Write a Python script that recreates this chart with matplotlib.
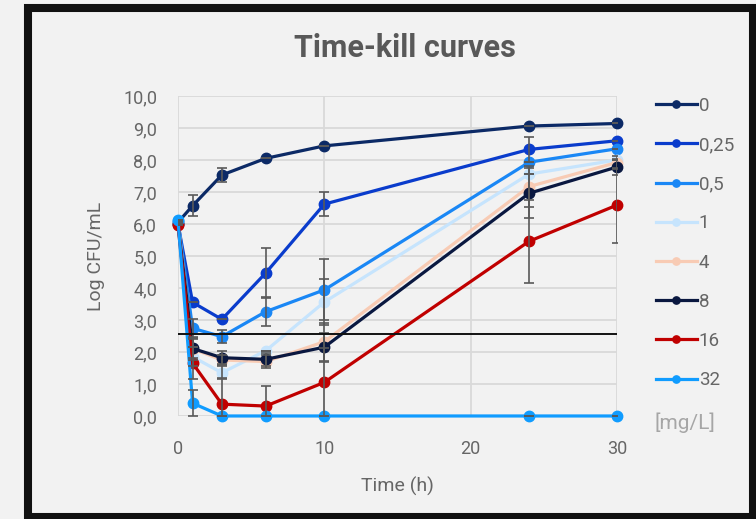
import matplotlib
matplotlib.use("Agg")
import matplotlib.pyplot as plt
from matplotlib.patches import Rectangle
from matplotlib.ticker import FuncFormatter, MultipleLocator

plt.rcParams['font.family'] = ['Roboto', 'DejaVu Sans']

# time points (h)
time_h = [0, 1, 3, 6, 10, 24, 30]

# concentrations (mg/L)
labels = ['0', '0,25', '0,5', '1', '4', '8', '16', '32']
colors = ['#0c2a66', '#0a3ccc', '#1a87f5', '#c6e4fd',
          '#f8cbb4', '#0a1840', '#c00000', '#109cff']

# log CFU/mL per concentration
log_0 = [6.05, 6.57, 7.53, 8.05, 8.44, 9.06, 9.14]
log_025 = [6.0, 3.55, 3.02, 4.47, 6.62, 8.33, 8.6]
log_05 = [6.1, 2.74, 2.48, 3.26, 3.94, 7.93, 8.35]
log_1 = [6.1, 1.85, 1.35, 2.04, 3.56, 7.56, 8.0]
log_4 = [6.0, 2.1, 1.75, 1.7, 2.32, 7.17, 7.92]
log_8 = [6.0, 2.11, 1.82, 1.77, 2.15, 6.96, 7.78]
log_16 = [5.97, 1.65, 0.37, 0.31, 1.05, 5.46, 6.59]
log_32 = [6.12, 0.4, 0.0, 0.0, 0.0, 0.0, 0.0]

# standard deviations
sd_0 = [0, 0.33, 0.22, 0, 0, 0, 0]
sd_025 = [0, 0, 0, 0.78, 0.38, 0.4, 0]
sd_05 = [0, 0.3, 0.2, 0.45, 0.95, 0, 0]
sd_1 = [0, 0.3, 0.2, 0, 0.72, 0, 0]
sd_4 = [0, 0.3, 0.15, 0.2, 0.6, 0.63, 0.2]
sd_8 = [0, 0.35, 0.2, 0.2, 0.45, 0.78, 0.25]
sd_16 = [0, 0.5, 0.82, 0.63, 1.08, 1.3, 1.17]
sd_32 = [0, 0.4, 0, 0, 0, 0, 0]

threshold = 2.56

series = [log_0, log_025, log_05, log_1, log_4, log_8, log_16, log_32]
errors = [sd_0, sd_025, sd_05, sd_1, sd_4, sd_8, sd_16, sd_32]

bg = '#f2f2f2'
txt = '#595959'
tick_txt = '#666666'

fig = plt.figure(figsize=(7.56, 5.19), dpi=100)
fig.patch.set_facecolor(bg)
ax = fig.add_axes([0.2354, 0.1985, 0.5807, 0.6166])
ax.set_facecolor(bg)

for y, e in zip(series, errors):
    ax.errorbar(time_h, y, yerr=e, fmt='none', ecolor=txt, elinewidth=1.2,
                capsize=3.5, capthick=1.2, zorder=4)

for y, c, lab in zip(series, colors, labels):
    ax.plot(time_h, y, color=c, lw=2.3, marker='o', ms=7.5, label=lab,
            clip_on=False, zorder=3)

ax.plot([0, 30], [threshold, threshold], color='#111111', lw=1.4, zorder=5)

ax.set_xlim(0, 30)
ax.set_ylim(0, 10)
ax.xaxis.set_major_locator(MultipleLocator(10))
ax.yaxis.set_major_locator(MultipleLocator(1))
ax.yaxis.set_major_formatter(FuncFormatter(lambda v, p: ('%.1f' % v).replace('.', ',')))
ax.grid(True, color='#d9d9d9', lw=1.3)
ax.set_axisbelow(True)
for s in ax.spines.values():
    s.set_visible(False)
ax.tick_params(length=0, labelsize=13, labelcolor=tick_txt)
ax.tick_params(axis='x', pad=17)
ax.tick_params(axis='y', pad=15)
ax.set_xlabel('Time (h)', fontsize=14, color=tick_txt, labelpad=14)
ax.set_ylabel('Log CFU/mL', fontsize=14, color=tick_txt, labelpad=13)

fig.text(0.535, 0.908, 'Time-kill curves', ha='center', va='center',
         fontsize=22, fontweight='bold', color=txt)

leg = ax.legend(loc='upper left', bbox_to_anchor=(1.05, 1.05), frameon=False,
                fontsize=13.5, labelcolor=tick_txt, handlelength=2.2,
                handletextpad=0.1, labelspacing=1.13, markerscale=0.7)
fig.text(0.866, 0.185, '[mg/L]', fontsize=15, color='#a6a6a6', va='center')

fig.add_artist(Rectangle((0.037, 0.004), 0.959, 0.981, transform=fig.transFigure,
                         fill=False, edgecolor='#111111', lw=5.8))

fig.savefig('out.png', dpi=100, facecolor=bg)
